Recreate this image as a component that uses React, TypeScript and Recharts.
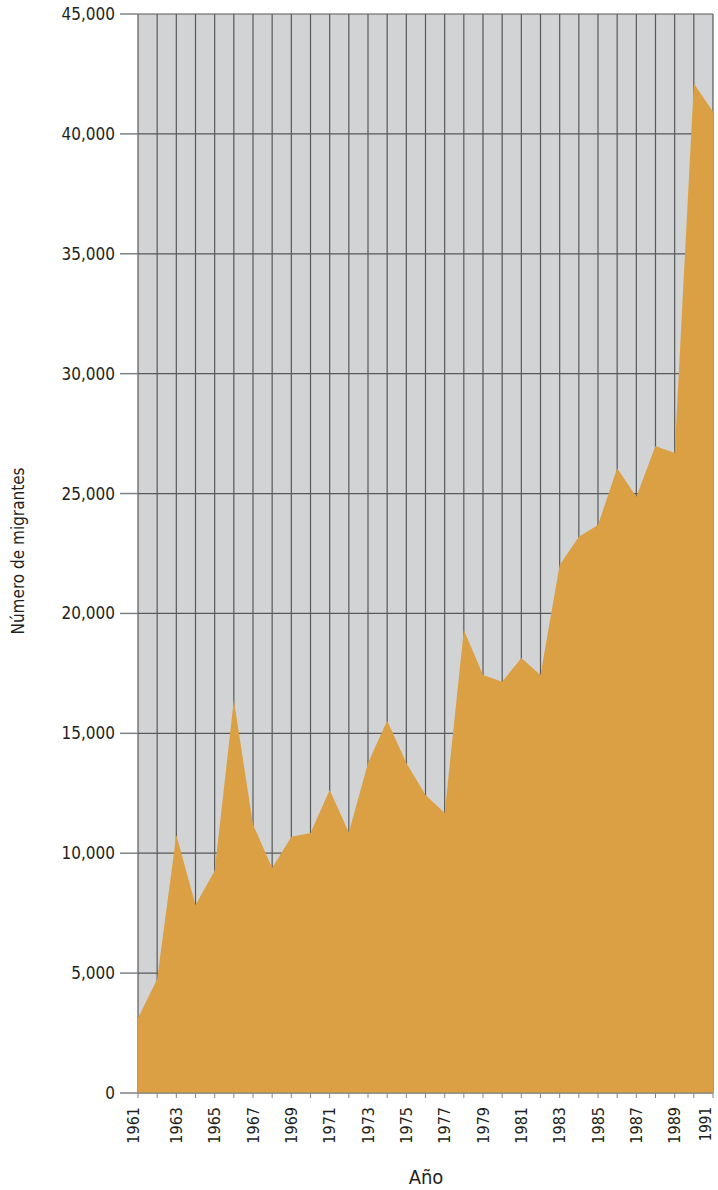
import { AreaChart, Area, XAxis, YAxis, CartesianGrid, Label } from 'recharts';

const YEARS = [
  1961, 1962, 1963, 1964, 1965, 1966, 1967, 1968, 1969, 1970,
  1971, 1972, 1973, 1974, 1975, 1976, 1977, 1978, 1979, 1980,
  1981, 1982, 1983, 1984, 1985, 1986, 1987, 1988, 1989, 1990, 1991,
];

const MIGRANTS = [
  3130, 4740, 10760, 7840, 9270, 16390, 11200, 9380, 10690, 10840,
  12640, 10860, 13760, 15530, 13760, 12430, 11680, 19310, 17430, 17150,
  18140, 17430, 22020, 23200, 23690, 26060, 24870, 26980, 26690, 42100, 40920,
];

const Y_TICKS = [0, 5000, 10000, 15000, 20000, 25000, 30000, 35000, 40000, 45000];

const C = {
  plotBg: '#d1d3d4',
  grid: '#58595b',
  axis: '#808285',
  fill: '#dba043',
  text: '#231f20',
};

const NARROW = "'Liberation Sans Narrow', 'DejaVu Sans Condensed', sans-serif";
const COND = "'DejaVu Sans Condensed', 'Liberation Sans Narrow', sans-serif";

const data = YEARS.map((year, i) => ({ year, value: MIGRANTS[i] }));

const fmt = (v: number) => v.toLocaleString('en-US');

function YearTick(props: any) {
  const { x, y, payload } = props;
  if (payload.value % 2 === 0) return null;
  // first and last labels sit a bit inside, like the original
  const tx = payload.value === 1991 ? x - 7 : payload.value === 1961 ? x - 5 : x;
  const ty = y + 7;
  return (
    <text
      x={tx}
      y={ty}
      dy="0.36em"
      transform={`rotate(-90, ${tx}, ${ty})`}
      textAnchor="end"
      fontSize={payload.value === 1991 ? 15 : 16}
      fontFamily={NARROW}
      fill={C.text}
    >
      {payload.value}
    </text>
  );
}

export default function App() {
  return (
    <div style={{ position: 'absolute', left: 0, top: 0, width: 718, height: 1190, background: '#fff' }}>
      <AreaChart width={718} height={1190} data={data} margin={{ top: 14, right: 5, left: 0, bottom: 0 }}>
        <CartesianGrid stroke={C.grid} strokeWidth={1.2} fill={C.plotBg} fillOpacity={1} />
        <XAxis
          dataKey="year"
          type="number"
          domain={[1961, 1991]}
          ticks={YEARS}
          interval={0}
          height={97}
          tickSize={5}
          tick={<YearTick />}
          stroke={C.axis}
          tickLine={{ stroke: C.axis }}
        >
          <Label
            content={() => (
              <text x={426} y={1184} textAnchor="middle" fontSize={20} fontFamily={NARROW} fill={C.text}>
                Año
              </text>
            )}
          />
        </XAxis>
        <YAxis
          width={138}
          domain={[0, 45000]}
          ticks={Y_TICKS}
          interval={0}
          tickSize={18}
          tickMargin={5}
          tickFormatter={fmt}
          axisLine={false}
          tickLine={{ stroke: C.axis, strokeWidth: 1.5 }}
          tick={{ fontSize: 17, fontFamily: COND, fill: C.text }}
        >
          <Label
            content={() => (
              <text
                x={18}
                y={551}
                dy="0.36em"
                transform="rotate(-90, 18, 551)"
                textAnchor="middle"
                fontSize={17}
                fontFamily={COND}
                fill={C.text}
              >
                Número de migrantes
              </text>
            )}
          />
        </YAxis>
        <Area
          type="linear"
          dataKey="value"
          stroke="none"
          fill={C.fill}
          fillOpacity={1}
          isAnimationActive={false}
        />
      </AreaChart>
    </div>
  );
}
